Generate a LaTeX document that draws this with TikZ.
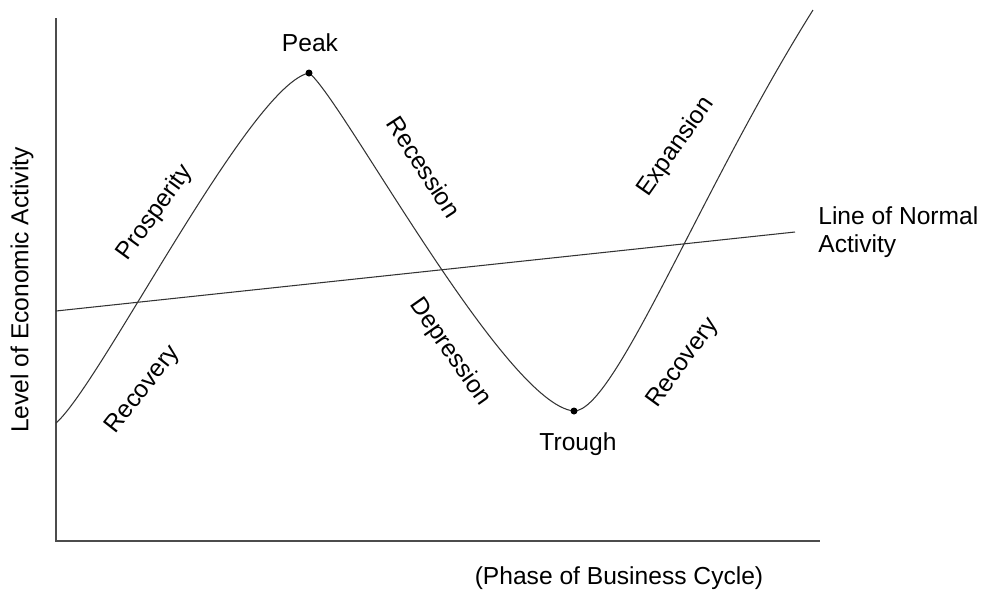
\documentclass[tikz,border=0pt]{standalone}
\usepackage{fontspec}
\setmainfont{Liberation Sans}
\usetikzlibrary{positioning}

\begin{document}
\begin{tikzpicture}[x=0.02cm,y=-0.02cm,
	lbl/.style={font=\fontsize{14}{16}\selectfont,inner sep=0pt},
	axis/.style={draw=black!70,line width=1.1pt},
	cycle/.style={draw=black!80,line width=0.6pt}]
	\useasboundingbox (0,0) rectangle (985,593);
	% axes
	\coordinate (top) at (56,18);
	\coordinate (origin) at (56,541);
	\coordinate (right) at (820,541);
	\draw[axis] (top) -- (origin) -- (right);
	% line of normal activity
	\coordinate (normal_a) at (56,311);
	\coordinate (normal_b) at (795,232);
	\draw[cycle] (normal_a) -- (normal_b);
	% business cycle
	\coordinate (start) at (56,423);
	\coordinate (peak) at (309,73);
	\coordinate (trough) at (574,411);
	\coordinate (finish) at (813,10);
	\draw[cycle] (start) .. controls (100,385) and (250,85) .. (peak)
	  .. controls (340,95) and (505,405) .. (trough)
	  .. controls (615,411) and (700,190) .. (finish);
	\fill (peak) circle (3.5);
	\fill (trough) circle (3.5);
	% labels
	\node[lbl] (peak_lbl) at (310,43) {Peak};
	\node[lbl] (trough_lbl) at (578,444) {Trough};
	\node[lbl,rotate=54] (prosperity) at (155,213) {Prosperity};
	\node[lbl,rotate=-57] (recession) at (424,167) {Recession};
	\node[lbl,rotate=52] (recovery_a) at (143,390) {Recovery};
	\node[lbl,rotate=-55] (depression) at (450,352) {Depression};
	\node[lbl,rotate=55] (expansion) at (676,147) {Expansion};
	\node[lbl,rotate=54] (recovery_b) at (683,363) {Recovery};
	\node[lbl,anchor=west,align=left] (normal_lbl) at (818,232) {Line of Normal\\Activity};
	\node[lbl] (x_lbl) at (619,578) {(Phase of Business Cycle)};
	\node[lbl,rotate=90] (y_lbl) at (22,290) {Level of Economic Activity};
\end{tikzpicture}
\end{document}
